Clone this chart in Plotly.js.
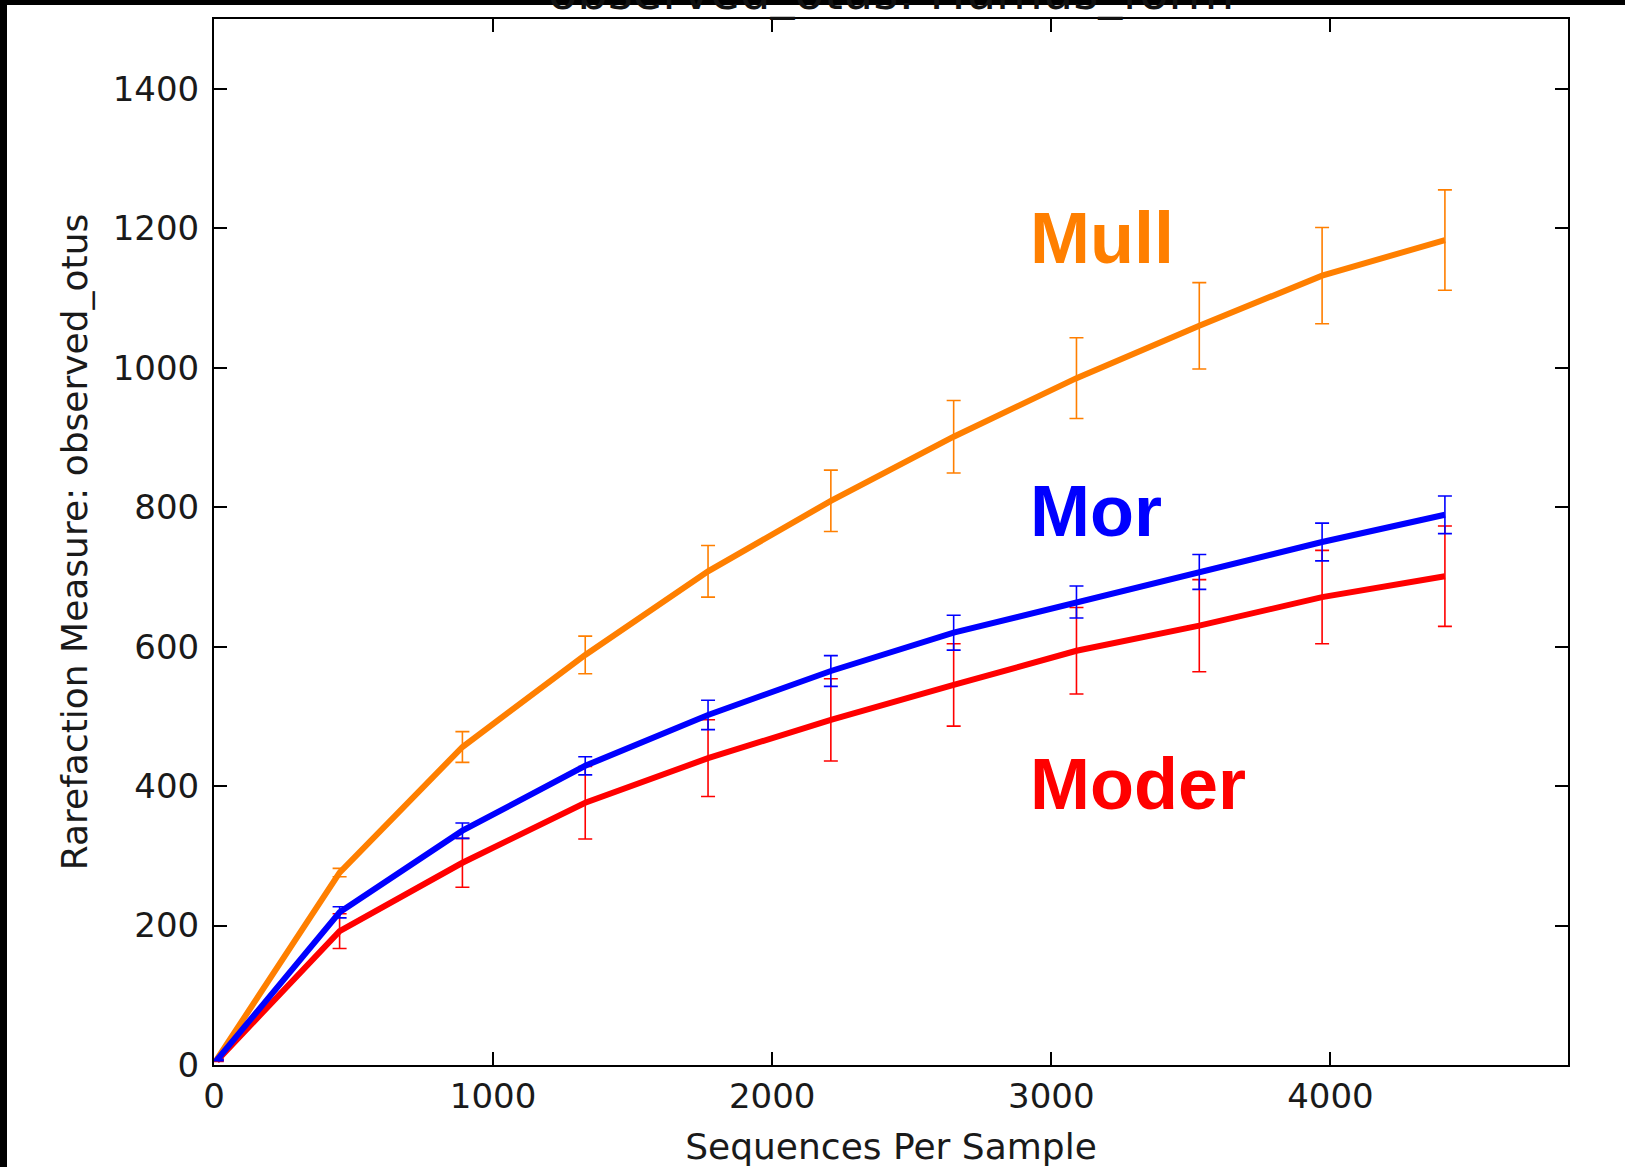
<!DOCTYPE html>
<html>
<head>
<meta charset="utf-8">
<script src="https://cdn.plot.ly/plotly-3.0.1.min.js"></script>
<style>
html,body{margin:0;padding:0;background:#fff;}
#chart{width:1625px;height:1167px;}
</style>
</head>
<body>
<div id="chart"></div>
<script>
// Sequences per sample (rarefaction depths)
const depths = [10, 450, 890, 1330, 1770, 2210, 2650, 3090, 3530, 3970, 4410];

// Mean observed OTUs per group
const mullMean  = [8, 276, 456, 588, 708, 809, 901, 985, 1060, 1132, 1183];
const morMean   = [7, 219, 336, 429, 502, 565, 620, 664, 707, 750, 789];
const moderMean = [6, 192, 290, 376, 440, 495, 545, 594, 630, 671, 701];

// Error (std) per group
const mullErr  = [1, 6, 22, 27, 37, 44, 52, 58, 62, 69, 72];
const morErr   = [1, 8, 11, 13, 21, 22, 25, 23, 25, 27, 27];
const moderErr = [1, 25, 35, 52, 55, 59, 59, 62, 66, 67, 72];

const groupNames = ["Mull", "Mor", "Moder"];
const xTicks = [0, 1000, 2000, 3000, 4000];
const yTicks = [0, 200, 400, 600, 800, 1000, 1200, 1400];

const titleText = "observed_otus: Humus_form";
const xTitle = "Sequences Per Sample";
const yTitle = "Rarefaction Measure: observed_otus";

const colors = {Mull: "#ff7f00", Mor: "#0000ff", Moder: "#ff0000"};

function series(name, y, err) {
  return {
    type: "scatter", mode: "lines", name: name,
    x: depths, y: y,
    line: {color: colors[name], width: 6},
    error_y: {type: "data", array: err, visible: true, color: colors[name], thickness: 1.6, width: 7},
    hoverinfo: "x+y"
  };
}

const data = [
  series("Mull", mullMean, mullErr),
  series("Moder", moderMean, moderErr),
  series("Mor", morMean, morErr)
];

const tickFont = {family: "DejaVu Sans", size: 34, color: "#1a1a1a"};
const axisCommon = {
  showline: true, mirror: "ticks", linecolor: "#000", linewidth: 2,
  ticks: "inside", ticklen: 13, tickwidth: 2, tickcolor: "#000",
  showgrid: false, zeroline: false, tickfont: tickFont, automargin: false
};

const layout = {
  width: 1625, height: 1167,
  paper_bgcolor: "#fff", plot_bgcolor: "#fff",
  margin: {l: 214, r: 57, t: 19, b: 102},
  showlegend: false,
  xaxis: Object.assign({}, axisCommon, {
    range: [0, 4851], tickvals: xTicks, ticktext: xTicks.map(String),
    ticklabelstandoff: 0,
    title: {text: xTitle, font: {family: "DejaVu Sans", size: 36, color: "#1a1a1a"}, standoff: 22}
  }),
  yaxis: Object.assign({}, axisCommon, {
    range: [0, 1500], tickvals: yTicks, ticktext: yTicks.map(String),
    ticklabelstandoff: 6,
    title: {text: yTitle, font: {family: "DejaVu Sans", size: 36, color: "#1a1a1a"}, standoff: 14}
  }),
  annotations: [
    {text: titleText, xref: "paper", yref: "paper", x: 0.5, y: 1 - 3/1046, xanchor: "center", yanchor: "bottom",
     showarrow: false, font: {family: "DejaVu Sans", size: 48, color: "#111"}},
    {text: "<b>Mull</b>", xref: "x", yref: "y", x: 2915, y: 1186, xanchor: "left", yanchor: "middle",
     showarrow: false, font: {family: "Liberation Sans", size: 72, color: colors.Mull}},
    {text: "<b>Mor</b>", xref: "x", yref: "y", x: 2915, y: 794, xanchor: "left", yanchor: "middle",
     showarrow: false, font: {family: "Liberation Sans", size: 72, color: colors.Mor}},
    {text: "<b>Moder</b>", xref: "x", yref: "y", x: 2915, y: 403, xanchor: "left", yanchor: "middle",
     showarrow: false, font: {family: "Liberation Sans", size: 72, color: colors.Moder}}
  ],
  shapes: [
    {type: "rect", xref: "paper", yref: "paper", layer: "above", line: {width: 0}, fillcolor: "#000",
     x0: -214/1354, x1: 1 + 57/1354, y0: 1 + 14/1046, y1: 1 + 19/1046},
    {type: "rect", xref: "paper", yref: "paper", layer: "above", line: {width: 0}, fillcolor: "#000",
     x0: -214/1354, x1: -207/1354, y0: -102/1046, y1: 1 + 19/1046}
  ]
};

Plotly.newPlot("chart", data, layout, {displayModeBar: false, staticPlot: true});
</script>
</body>
</html>
